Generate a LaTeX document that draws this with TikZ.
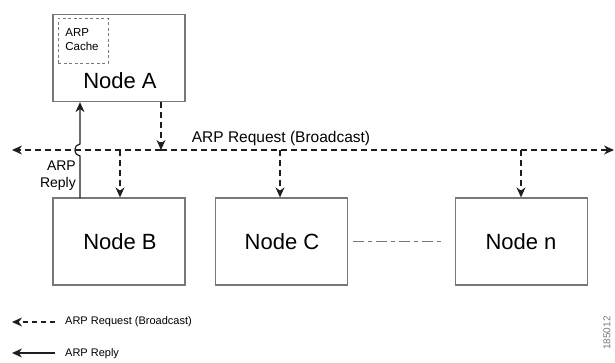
\documentclass[tikz,border=0pt]{standalone}
\usepackage{fontspec}
\setmainfont{Liberation Sans}
\usetikzlibrary{arrows.meta,calc}
\definecolor{boxgray}{RGB}{120,120,120}
\definecolor{linedark}{RGB}{30,30,30}
\begin{document}
\begin{tikzpicture}[x=1pt,y=-1pt,
  box/.style={draw=boxgray, line width=1.3pt, minimum width=132pt, minimum height=87pt, inner sep=0pt},
  nodetext/.style={font=\fontsize{22}{25}\selectfont, inner sep=0pt},
  cachebox/.style={draw=boxgray, line width=1pt, dash pattern=on 3pt off 2.5pt, minimum width=50pt, minimum height=45pt, inner sep=0pt},
  req/.style={draw=linedark, line width=1.2pt, dash pattern=on 6pt off 4pt, -{Stealth[length=10pt,width=9pt]}},
  rep/.style={draw=linedark, line width=1.2pt, -{Stealth[length=10pt,width=9pt]}},
  lbl/.style={font=\fontsize{14}{17}\selectfont, inner sep=0pt},
  small/.style={font=\fontsize{11}{13}\selectfont, inner sep=0pt},
]
\useasboundingbox (0,0) rectangle (615,362);

% boxes
\node[box] (nodeA) at (119,58) {};
\node[nodetext] (labA) at (120,81) {Node A};
\node[cachebox] (cache) at (83,40.5) {};
\node[font=\fontsize{11.5}{14}\selectfont, align=left, inner sep=0pt] (cachetxt) at (82,40) {ARP\\Cache};

\node[box] (nodeB) at (119,241.5) {};
\node[nodetext] (labB) at (120,242) {Node B};
\node[box] (nodeC) at (281.5,241.5) {};
\node[nodetext] (labC) at (282,242) {Node C};
\node[box] (nodeN) at (521.5,241.5) {};
\node[nodetext] (labN) at (521,242) {Node n};

% dash-dot between C and n
\draw[draw=boxgray, line width=1.1pt, dash pattern=on 11pt off 4pt on 4pt off 4pt] ($(nodeC.east)+(5,0)$) coordinate (dd1) -- ($(nodeN.west)+(-12,0)$) coordinate (dd2);

% broadcast line
\coordinate (bl) at (12,150);
\coordinate (br) at (614,150);
\coordinate (mid) at (161,150);
\draw[req] (mid) -- (bl);
\draw[req] (mid) -- (br);
\node[font=\fontsize{15.5}{18}\selectfont, inner sep=0pt] (reqlbl) at (281,138.5) {ARP Request (Broadcast)};

% from A down to line
\draw[req] (nodeA.south -| mid) -- (mid);
% branches
\coordinate (jB) at (120,150);
\coordinate (jC) at (280,150);
\coordinate (jN) at (521,150);
\draw[req] (jB) -- (jB |- nodeB.north);
\draw[req] (jC) -- (jC |- nodeC.north);
\draw[req] (jN) -- (jN |- nodeN.north);

% reply with hop
\coordinate (rB) at (80,198);
\coordinate (hopS) at (80,156);
\draw[rep] (rB) -- (hopS) arc[start angle=270, end angle=90, x radius=5pt, y radius=6pt] -- (rB |- nodeA.south);
\node[lbl, align=right, anchor=east] (replbl) at (76,176) {ARP\\Reply};

% legend
\coordinate (l1a) at (55,322);
\coordinate (l1b) at (12,322);
\draw[req, dash pattern=on 5pt off 4pt] (l1a) -- (l1b);
\node[small, anchor=west] (leg1) at (65,322) {ARP Request (Broadcast)};
\coordinate (l2a) at (55,353);
\coordinate (l2b) at (12,353);
\draw[rep] (l2a) -- (l2b);
\node[small, anchor=west] (leg2) at (65,354) {ARP Reply};

% figure id
\node[font=\fontsize{10}{12}\selectfont, text=boxgray, rotate=90, inner sep=0pt] (figid) at (607,333) {185012};
\end{tikzpicture}
\end{document}
